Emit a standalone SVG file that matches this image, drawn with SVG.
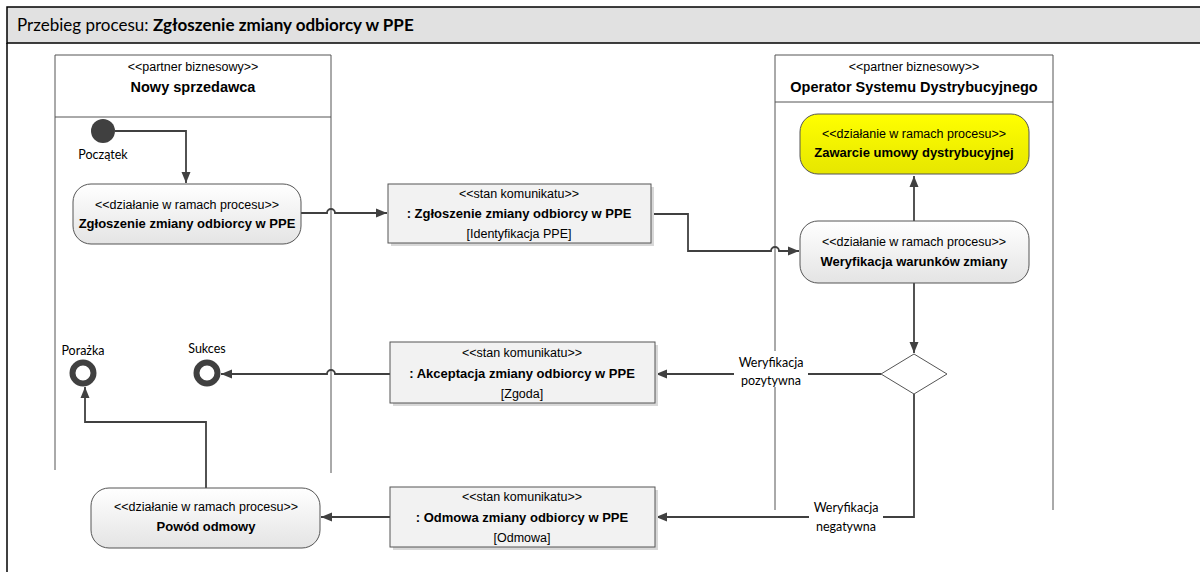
<svg xmlns="http://www.w3.org/2000/svg" width="1200" height="572" viewBox="0 0 1200 572">
<defs>
<linearGradient id="gNode" x1="0" y1="0" x2="0" y2="1"><stop offset="0" stop-color="#ffffff"/><stop offset="1" stop-color="#e4e4e4"/></linearGradient>
<linearGradient id="gYel" x1="0" y1="0" x2="0" y2="1"><stop offset="0" stop-color="#ffff00"/><stop offset="1" stop-color="#e6e600"/></linearGradient>
<marker id="arr" markerUnits="userSpaceOnUse" markerWidth="12" markerHeight="10" refX="11" refY="5" orient="auto"><path d="M0,0.5 L11,5 L0,9.5 z" fill="#404040"/></marker>
</defs>
<style>
.t{font-family:"Liberation Sans",Arial,sans-serif;font-size:12.5px;fill:#000;text-anchor:middle}
.b{font-weight:bold;font-size:13px}
.h{font-weight:bold;font-size:14.5px}
.c{font-family:Lato,"Liberation Sans",sans-serif;font-size:12.5px;fill:#000;text-anchor:middle}
.lane{fill:none;stroke:#555;stroke-width:1}
.node{fill:url(#gNode);stroke:#555;stroke-width:1}
.msg{fill:#f2f2f2;stroke:#555;stroke-width:1}
.sh{fill:#d8d8d8}
.con{fill:none;stroke:#404040;stroke-width:1.8}
</style>
<rect x="0" y="0" width="1200" height="572" fill="#fff"/>
<g id="frame">
<rect x="7" y="7" width="1200" height="36" fill="#e1e1e1" stroke="#000" stroke-width="1.5"/>
<line x1="7" y1="43" x2="7" y2="572" stroke="#000" stroke-width="1.5"/>
<text x="17" y="31" font-family="Lato,'Liberation Sans',sans-serif" font-size="17" fill="#000">Przebieg procesu: <tspan font-weight="bold">Zgłoszenie zmiany odbiorcy w PPE</tspan></text>
</g>
<g id="lane-nowy-sprzedawca">
<path class="lane" d="M55,470 V55 H331 V473"/>
<line class="lane" x1="55" y1="117" x2="331" y2="117"/>
<text class="t" x="193" y="71">&lt;&lt;partner biznesowy&gt;&gt;</text>
<text class="t h" x="193" y="92">Nowy sprzedawca</text>
</g>
<g id="lane-osd">
<path class="lane" d="M775,510 V55 H1053 V510"/>
<line class="lane" x1="775" y1="102" x2="1053" y2="102"/>
<text class="t" x="914" y="71">&lt;&lt;partner biznesowy&gt;&gt;</text>
<text class="t h" x="914" y="92">Operator Systemu Dystrybucyjnego</text>
</g>
<g id="connectors">
<path class="con" d="M115,131 H186 V183" marker-end="url(#arr)"/>
<path class="con" d="M301,213 H327 a4,4 0 0 1 8,0 H387" marker-end="url(#arr)"/>
<path class="con" d="M651,214 H688 V251 H771 a4,4 0 0 1 8,0 H799" marker-end="url(#arr)"/>
<path class="con" d="M914,221 V176" marker-end="url(#arr)"/>
<path class="con" d="M914,283 V353" marker-end="url(#arr)"/>
<path class="con" d="M881,374 H656" marker-end="url(#arr)"/>
<path class="con" d="M390,374 H335 a4,4 0 0 0 -8,0 H221" marker-end="url(#arr)"/>
<path class="con" d="M914,394 V517 H656" marker-end="url(#arr)"/>
<path class="con" d="M390,517 H321" marker-end="url(#arr)"/>
<path class="con" d="M206,488 V422 H85 V387" marker-end="url(#arr)"/>
<rect x="734" y="351" width="74" height="36" fill="#fff"/>
<text class="c" x="771" y="367">Weryfikacja</text>
<text class="c" x="771" y="385">pozytywna</text>
<rect x="809" y="497" width="74" height="36" fill="#fff"/>
<text class="c" x="846" y="512">Weryfikacja</text>
<text class="c" x="846" y="531">negatywna</text>
</g>
<g id="start">
<circle cx="103" cy="131" r="12" fill="#404040"/>
<text class="c" x="103" y="159">Początek</text>
</g>
<g id="node-zgloszenie">
<rect class="node" x="73" y="184" width="228" height="60" rx="18"/>
<text class="t" x="187" y="209">&lt;&lt;działanie w ramach procesu&gt;&gt;</text>
<text class="t b" x="187" y="228">Zgłoszenie zmiany odbiorcy w PPE</text>
</g>
<g id="msg-zgloszenie">
<rect class="sh" x="391" y="187" width="263" height="59"/>
<rect class="msg" x="388" y="184" width="263" height="59"/>
<text class="t" x="519" y="198">&lt;&lt;stan komunikatu&gt;&gt;</text>
<text class="t b" x="519" y="218">: Zgłoszenie zmiany odbiorcy w PPE</text>
<text class="t" x="519" y="238">[Identyfikacja PPE]</text>
</g>
<g id="node-zawarcie">
<rect x="800" y="114" width="229" height="60" rx="18" fill="url(#gYel)" stroke="#555" stroke-width="1"/>
<text class="t" x="914" y="138">&lt;&lt;działanie w ramach procesu&gt;&gt;</text>
<text class="t b" x="914" y="157">Zawarcie umowy dystrybucyjnej</text>
</g>
<g id="node-weryfikacja">
<rect class="node" x="800" y="221" width="229" height="62" rx="18"/>
<text class="t" x="914" y="246">&lt;&lt;działanie w ramach procesu&gt;&gt;</text>
<text class="t b" x="914" y="266">Weryfikacja warunków zmiany</text>
</g>
<g id="decision">
<path d="M914,354 L947,374 L914,394 L881,374 z" fill="#fff" stroke="#555" stroke-width="1"/>
</g>
<g id="msg-akceptacja">
<rect class="sh" x="393" y="345" width="265" height="61"/>
<rect class="msg" x="390" y="342" width="265" height="61"/>
<text class="t" x="522" y="357">&lt;&lt;stan komunikatu&gt;&gt;</text>
<text class="t b" x="522" y="378">: Akceptacja zmiany odbiorcy w PPE</text>
<text class="t" x="522" y="398">[Zgoda]</text>
</g>
<g id="end-sukces">
<circle cx="207" cy="373" r="10.5" fill="none" stroke="#404040" stroke-width="6"/>
<text class="c" x="207" y="353">Sukces</text>
</g>
<g id="end-porazka">
<circle cx="83" cy="373" r="10.5" fill="none" stroke="#404040" stroke-width="6"/>
<text class="c" x="83" y="355">Porażka</text>
</g>
<g id="msg-odmowa">
<rect class="sh" x="393" y="490" width="265" height="60"/>
<rect class="msg" x="390" y="487" width="265" height="60"/>
<text class="t" x="522" y="501">&lt;&lt;stan komunikatu&gt;&gt;</text>
<text class="t b" x="522" y="522">: Odmowa zmiany odbiorcy w PPE</text>
<text class="t" x="522" y="542">[Odmowa]</text>
</g>
<g id="node-powod">
<rect class="node" x="91" y="488" width="229" height="60" rx="18"/>
<text class="t" x="206" y="511">&lt;&lt;działanie w ramach procesu&gt;&gt;</text>
<text class="t b" x="206" y="531">Powód odmowy</text>
</g>
</svg>
